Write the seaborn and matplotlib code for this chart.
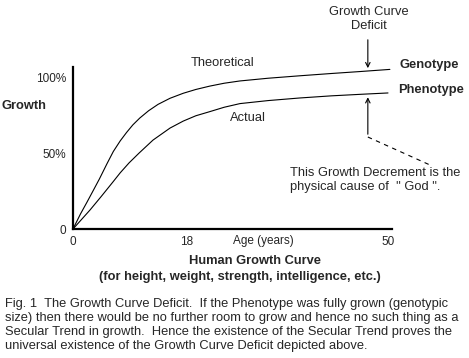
import numpy as np
import pandas as pd
import matplotlib
matplotlib.use("Agg")
import matplotlib.pyplot as plt
import seaborn as sns

# values (age in years, growth in %)
age_theoretical = [0, 1.2, 2.2, 3.3, 4.2, 5.4, 6.4, 7.5, 8.5, 9.5, 10.6, 12, 13.5, 15.4,
                   17.5, 19.5, 21.7, 24, 26.5, 31, 36, 41, 45.6, 50.3]
growth_theoretical = [0, 10, 17.5, 26, 33, 43, 51, 58, 63.5, 68.5, 73, 77.8, 82, 86,
                      89.3, 91.8, 94, 95.9, 97.4, 99.2, 100.8, 102.3, 103.6, 105]
age_actual = [0, 2.7, 4.5, 6.35, 7.5, 8.9, 10.5, 12.7, 15.4, 17.5, 19.5, 21.7, 24, 26.5,
              31, 36, 41, 45.6, 50]
growth_actual = [0, 12.5, 21.5, 31, 37, 43.5, 50, 58.5, 66.4, 71, 74.5, 77.2, 80.1, 82.5,
                 84.5, 86.2, 87.6, 88.6, 89.5]
x_ticks = [0, 18, 50]
y_ticks = [0, 50, 100]
y_tick_labels = ["0", "50%", "100%"]
deficit_age = 46.8

caption = ("Fig. 1  The Growth Curve Deficit.  If the Phenotype was fully grown (genotypic\n"
           "size) then there would be no further room to grow and hence no such thing as a\n"
           "Secular Trend in growth.  Hence the existence of the Secular Trend proves the\n"
           "universal existence of the Growth Curve Deficit depicted above.")

df = pd.concat([
    pd.DataFrame({"age": age_theoretical, "growth": growth_theoretical, "curve": "Theoretical"}),
    pd.DataFrame({"age": age_actual, "growth": growth_actual, "curve": "Actual"}),
])

sns.set_style("white")
plt.rcParams["font.family"] = ["Liberation Sans", "DejaVu Sans"]

W, H = 469, 358
fig = plt.figure(figsize=(W / 100, H / 100), dpi=100)
# axes box in pixels: left 73, right 392, top 67, bottom 229
ax = fig.add_axes([73 / W, 1 - 229 / H, (392 - 73) / W, (229 - 67) / H])

sns.lineplot(data=df, x="age", y="growth", units="curve", estimator=None,
             color="black", linewidth=0.8, sort=False, ax=ax, legend=False)

ax.set_xlim(0, (392 - 73) / 6.3)
ax.set_ylim(0, (229 - 67) / 1.52)
sns.despine(ax=ax)
for s in ["left", "bottom"]:
    ax.spines[s].set_linewidth(1.6)
    ax.spines[s].set_color("black")
ax.set_xticks(x_ticks, [str(v) for v in x_ticks])
ax.set_yticks(y_ticks, y_tick_labels)
ax.tick_params(length=0, labelsize=8.5, pad=5)
ax.set_xlabel("")
ax.set_ylabel("")

def fx(x):
    return x / W

def fy(y):
    return 1 - y / H

fs = 9.3
fig.text(fx(2), fy(106), "Growth", fontsize=fs, weight="bold", va="center")
fig.text(fx(233), fy(241), "Age (years)", fontsize=8.5, va="center")
fig.text(fx(255), fy(261), "Human Growth Curve", fontsize=fs, weight="bold", ha="center", va="center")
fig.text(fx(240), fy(277), "(for height, weight, strength, intelligence, etc.)",
         fontsize=fs, weight="bold", ha="center", va="center")
fig.text(fx(222), fy(63), "Theoretical", fontsize=fs, ha="center", va="center")
fig.text(fx(230), fy(118), "Actual", fontsize=fs, va="center")
fig.text(fx(399), fy(65), "Genotype", fontsize=fs, weight="bold", va="center")
fig.text(fx(398), fy(90), "Phenotype", fontsize=fs, weight="bold", va="center")
fig.text(fx(369), fy(19), "Growth Curve\nDeficit", fontsize=fs, ha="center", va="center",
         linespacing=1.25)
fig.text(fx(290), fy(180), "This Growth Decrement is the\nphysical cause of  \" God \".",
         fontsize=fs, va="center", linespacing=1.25)
fig.text(fx(5), fy(325), caption, fontsize=fs, va="center", linespacing=1.25)

# arrows
ax.annotate("", xy=(deficit_age, 104), xytext=(deficit_age, (229 - 37) / 1.52),
            arrowprops=dict(arrowstyle="->", lw=0.8, color="black", mutation_scale=8),
            annotation_clip=False)
ax.annotate("", xy=(deficit_age, 88.5), xytext=(deficit_age, (229 - 137) / 1.52),
            arrowprops=dict(arrowstyle="->", lw=0.8, color="black", mutation_scale=8),
            annotation_clip=False)
ax.plot([deficit_age, (430 - 73) / 6.3], [(229 - 137) / 1.52, (229 - 165) / 1.52],
        color="black", lw=0.8, ls=(0, (4, 4)), clip_on=False)

fig.savefig("out.png", dpi=100)
